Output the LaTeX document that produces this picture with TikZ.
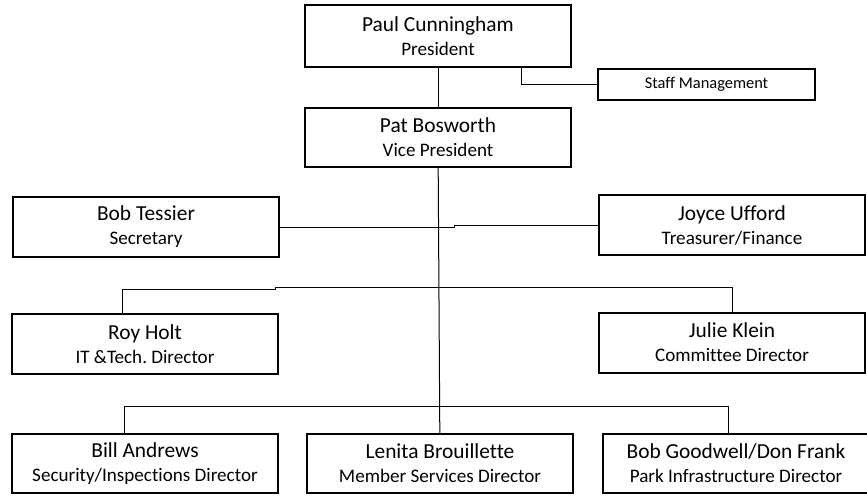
\documentclass[tikz,border=0pt]{standalone}
\usepackage{fontspec}
\setmainfont{Carlito}[Ligatures=NoCommon]
\usetikzlibrary{positioning}
\tikzset{
  box/.style  = {draw, line width=1pt, minimum width=133pt, minimum height=30pt, align=center, inner sep=0pt},
  small/.style = {draw, line width=1pt, minimum width=108.5pt, minimum height=15.5pt, inner sep=0pt, font=\fontsize{8.2}{9}\selectfont},
  line/.style = {line width=0.5pt},
}
\newcommand{\who}[2]{\fontsize{10.7}{11.5}\selectfont #1\\\fontsize{9.55}{11.5}\selectfont #2}
\frenchspacing

\begin{document}
\begin{tikzpicture}[x=0.5pt,y=-0.5pt]
    \useasboundingbox (0,0) rectangle (867,495);
    \node[box,minimum height=31pt] (pres) at (438,36) {\who{Paul Cunningham}{President}};
    \node[small] (staff) at (706.5,84.5) {Staff Management};
    \node[box,minimum height=29.5pt] (vp) at (438,137.5) {\who{Pat Bosworth}{Vice President}};
    \node[box] (secr) at (146,227) {\who{Bob Tessier}{Secretary}};
    \node[box] (treas) at (732,225) {\who{Joyce Ufford}{Treasurer/Finance}};
    \node[box] (itdir) at (145,344) {\who{Roy Holt}{IT \&Tech.\ Director}};
    \node[box] (comdir) at (732,342.5) {\who{Julie Klein}{Committee Director}};
    \node[box,minimum height=29.5pt] (secdir) at (145,463.5) {\who{Bill Andrews}{Security/Inspections Director}};
    \node[box,minimum height=29.5pt, right=13.5pt of secdir] (memdir) {\who{Lenita Brouillette}{Member Services Director}};
    \node[box,minimum height=29.5pt, right=14pt of memdir] (parkdir) {\who{Bob Goodwell/Don Frank}{Park Infrastructure Director}};
    % bends of the connectors
    \coordinate (jog1) at (454,226);
    \coordinate (bus1l) at (275,289);
    \coordinate (bus1r) at (275,287);
    \coordinate (bus2) at (438,406);
    \draw[line] (pres) -- (vp);
    \draw[line] ([xshift=41.5pt]pres.south) |- (staff.west);
    \draw[line] (vp) -- (memdir);
    \draw[line] (secr.east) -- (secr.east -| jog1) -- (treas.west -| jog1) -- (treas.west);
    \draw[line] ([xshift=-11.5pt]itdir.north) |- (bus1l) -- (bus1r) -| (comdir.north);
    \draw[line] ([xshift=-10.5pt]secdir.north) |- (bus2) -| ([xshift=-4pt]parkdir.north);
  \end{tikzpicture}
\end{document}
